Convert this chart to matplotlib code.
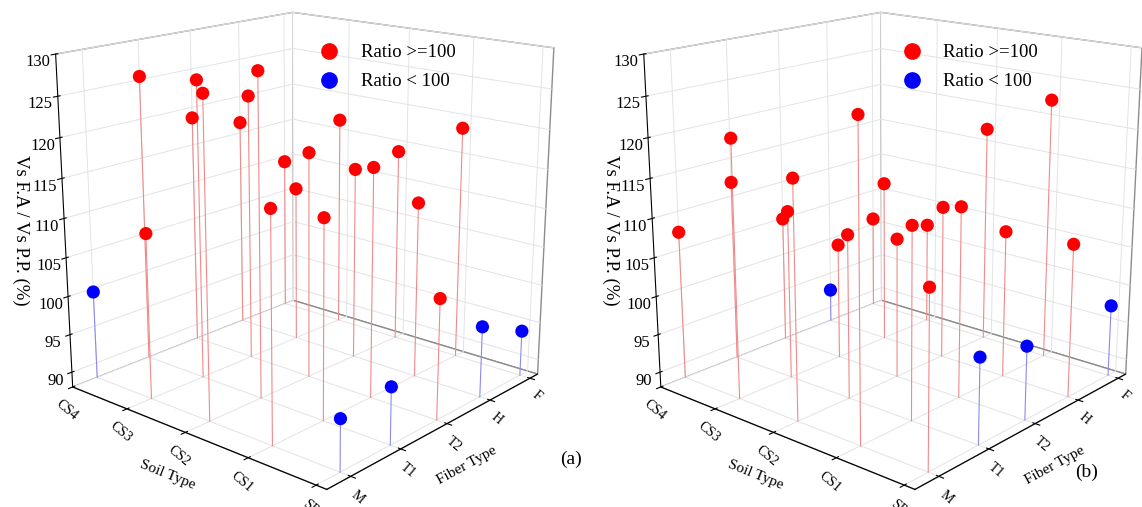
import numpy as np
import matplotlib
matplotlib.use('Agg')
import matplotlib.pyplot as plt
from matplotlib.lines import Line2D

plt.rcParams['font.family'] = ['Liberation Serif', 'DejaVu Serif']

soil_types = ['CS4', 'CS3', 'CS2', 'CS1', 'SP']
fiber_types = ['M', 'T1', 'T2', 'H', 'F']

# rows: soil type (CS4 .. SP), columns: fiber type (M .. F)
ratio_a = [
    [99.5, 125.4, 118.6, 116.4, 109.2],   # CS4
    [109.2, 126.3, 122.9, 109.0, 116.7],  # CS3
    [127.5, 128.7, 117.3, 113.4, 114.0],  # CS2
    [116.2, 113.1, 117.2, 110.9, 118.7],  # CS1
    [94.4, 95.2, 103.3, 97.2, 94.0],      # SP
]
ratio_b = [
    [107.3, 111.8, 104.9, 92.5, 100.8],   # CS4
    [120.8, 109.9, 103.4, 109.7, 101.9],  # CS3
    [117.8, 109.0, 106.3, 108.4, 117.0],  # CS2
    [126.6, 112.2, 112.4, 107.2, 122.3],  # CS1
    [109.5, 98.8, 97.4, 107.7, 97.4],     # SP
]
z_ticks = [90, 95, 100, 105, 110, 115, 120, 125, 130]
panel_tags = ['(a)', '(b)']
legend_labels = ['Ratio >=100', 'Ratio < 100']
z_title = 'Vs F.A / Vs P.P. (%)'

Z0, Z1 = 88, 130
RED, BLUE = '#ff0000', '#0000ff'

fig = plt.figure(figsize=(11.42, 5.07), dpi=100)

positions = [[-0.017, 0.019, 0.56, 1.06], [0.498, 0.019, 0.56, 1.06]]
zlab_x = [0.018, 0.535]
tag_pos = [(0.500, 0.094), (0.9515, 0.068)]
leg_anchor = [(0.257, 0.946), (0.767, 0.946)]

for p, data in enumerate([ratio_a, ratio_b]):
    ax = fig.add_axes(positions[p], projection='3d')
    ax.set_proj_type('persp', focal_length=0.5)
    ax.view_init(elev=17, azim=-49)
    ax.set_box_aspect((1.04, 1.04, 1.05), zoom=1.07)
    ax.computed_zorder = False

    xs, ys, zs, cs = [], [], [], []
    for i in range(len(soil_types)):
        for j in range(len(fiber_types)):
            v = data[i][j]
            hi = v >= 100
            ax.plot([i, i], [j, j], [Z0, v],
                    color='#f08a8a' if hi else '#8a8af0', lw=0.8, zorder=1)
            xs.append(i); ys.append(j); zs.append(v)
            cs.append(RED if hi else BLUE)
    ax.scatter(xs, ys, zs, c=cs, s=90, depthshade=False, zorder=3,
               edgecolors='none')

    ax.set_xlim(0, 4.15)
    ax.set_ylim(-0.45, 4.2)
    ax.set_zlim(Z0, Z1)
    ax.set_xticks(range(len(soil_types)))
    ax.set_xticklabels(soil_types, fontsize=10, rotation=-40)
    ax.set_yticks(range(len(fiber_types)))
    ax.set_yticklabels(fiber_types, fontsize=10, rotation=-40)
    ax.set_zticks(z_ticks)
    ax.set_zticklabels([str(t) for t in z_ticks], fontsize=12)
    ax.set_xlabel('Soil Type', fontsize=11, labelpad=-3)
    ax.set_ylabel('Fiber Type', fontsize=11, labelpad=-3)
    ax.zaxis.set_ticks_position('lower')

    for axis in (ax.xaxis, ax.yaxis, ax.zaxis):
        axis.set_pane_color((1, 1, 1, 1))
        axis.pane.set_edgecolor('#8c8c8c')
        axis._axinfo['grid']['color'] = '#e3e3e3'
        axis._axinfo['grid']['linewidth'] = 0.7
        axis._axinfo['axisline']['color'] = 'black'
        axis._axinfo['tick']['color'] = 'black'
    ax.tick_params(axis='x', pad=-3)
    ax.tick_params(axis='y', pad=-3)
    ax.tick_params(axis='z', pad=-1)

    fig.text(zlab_x[p], 0.545, z_title, rotation=-90, ha='center',
             va='center', fontsize=13.5)
    fig.text(tag_pos[p][0], tag_pos[p][1], panel_tags[p], fontsize=14,
             ha='center', va='center')

    handles = [Line2D([], [], marker='o', ls='none', color=RED, markersize=11),
               Line2D([], [], marker='o', ls='none', color=BLUE, markersize=11)]
    fig.legend(handles, legend_labels, loc='upper left',
               bbox_to_anchor=leg_anchor[p], frameon=False, fontsize=13.5,
               handletextpad=0.7, labelspacing=0.62)

fig.savefig('out.png', dpi=100)
